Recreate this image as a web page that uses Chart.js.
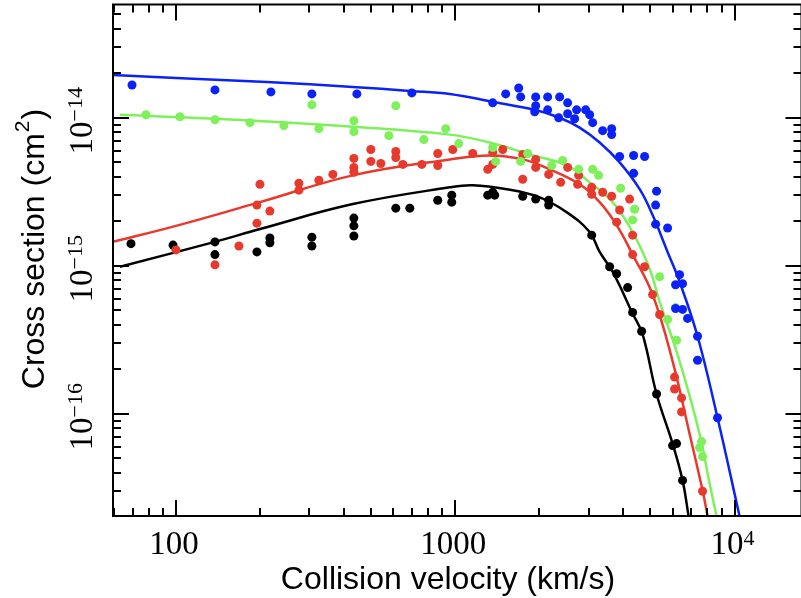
<!DOCTYPE html>
<html>
<head>
<meta charset="utf-8">
<title>Cross section vs collision velocity</title>
<script src="https://cdn.jsdelivr.net/npm/chart.js@4/dist/chart.umd.min.js"></script>
<style>
  html, body { margin: 0; padding: 0; background: #fff; overflow: hidden; }
</style>
</head>
<body>
<canvas id="xsec" width="806" height="598"></canvas>
<script>
// Velocities in km/s, cross sections in units of 1e-15 cm^2

// measured points
const blueV = [69.6, 137.9, 218.7, 306.6, 444.3, 699, 1362, 1516, 1687, 1715, 1925, 1941, 1941, 2142, 2142, 2365, 2346, 2526, 2526, 2676, 2720, 2930, 3029, 3105, 3371, 3631, 3631, 3878, 4352, 4764, 4352, 5258, 5217, 5217, 5758, 6356, 6150, 6515, 6150, 6515, 6789, 7372, 7372, 8692];
const blueS = [16.65, 15.41, 14.94, 14.49, 14.49, 14.71, 12.61, 14.49, 15.89, 13.83, 10.97, 13.83, 12.04, 13.83, 11.31, 13.83, 10.0, 12.61, 10.64, 9.85, 11.31, 11.31, 10.47, 9.26, 8.18, 8.44, 7.69, 5.47, 5.56, 5.47, 4.21, 3.19, 2.57, 1.91, 1.80, 0.871, 0.745, 0.757, 0.514, 0.507, 0.441, 0.334, 0.230, 0.094];

const greenV = [78.1, 103.3, 137.9, 184.0, 243.4, 306.6, 324.8, 433.5, 433.5, 578.3, 612.5, 771.6, 924.7, 1029, 1362, 1396, 1715, 1817, 2214, 2424, 2766, 3105, 3262, 3910, 4387, 4316, 5392, 6150, 5758, 6201, 7620, 7495, 7682];
const greenS = [10.47, 10.15, 9.69, 9.26, 8.84, 12.22, 8.44, 9.55, 8.05, 7.57, 12.04, 7.12, 8.44, 6.69, 6.29, 5.07, 5.07, 5.73, 4.76, 5.15, 4.48, 4.48, 4.08, 3.34, 2.41, 2.04, 0.844, 0.522, 0.434, 0.314, 0.0649, 0.0591, 0.0514];

const redV = [100, 137.9, 168.0, 194.9, 194.9, 199.8, 216.9, 275.5, 275.5, 324.8, 364.6, 433.5, 433.5, 433.5, 498.5, 498.5, 541.4, 612.5, 612.5, 649.2, 759, 865.6, 865.6, 979.7, 1155, 1307, 1362, 1362, 1479, 1744, 1744, 1941, 1941, 2160, 2385, 2526, 2743, 2766, 3080, 3080, 3371, 3631, 3878, 4211, 3783, 4316, 4316, 4764, 5089, 5392, 6099, 6099, 6461, 6461, 7682];
const redS = [1.28, 1.015, 1.36, 1.94, 2.57, 3.55, 2.34, 3.61, 3.24, 3.78, 4.14, 5.31, 4.62, 4.28, 6.10, 5.07, 4.91, 5.91, 5.39, 4.84, 4.84, 5.73, 4.76, 6.10, 5.73, 4.48, 4.84, 5.82, 6.10, 3.84, 5.65, 5.23, 4.62, 4.14, 3.66, 4.62, 3.55, 4.08, 3.39, 3.04, 3.14, 2.95, 2.38, 2.82, 1.97, 1.61, 1.19, 0.985, 0.639, 0.469, 0.177, 0.147, 0.128, 0.103, 0.0300];

const blackV = [69.0, 97.6, 137.9, 137.9, 194.9, 216.9, 216.9, 306.6, 306.6, 433.5, 433.5, 433.5, 612.5, 687.5, 865.6, 971.6, 971.6, 1307, 1362, 1384, 1744, 1941, 2160, 2160, 3080, 3571, 3783, 4142, 4316, 4649, 5258, 6000, 6201, 6515];
const blackS = [1.41, 1.38, 1.45, 1.19, 1.24, 1.54, 1.43, 1.56, 1.36, 2.10, 1.86, 1.59, 2.45, 2.45, 2.77, 3.00, 2.69, 3.00, 3.14, 3.00, 2.95, 2.82, 2.77, 2.57, 1.61, 0.985, 0.884, 0.712, 0.484, 0.361, 0.136, 0.0610, 0.0629, 0.0355];

// model curves
const blueFitV = [59.5, 100, 211.6, 429.8, 687.5, 955.6, 1362, 1925, 2365, 2788, 3289, 3878, 4574, 5089, 5758, 6356, 7372, 8692, 10420];
const blueFitS = [19.44, 18.56, 17.44, 16.15, 15.18, 14.49, 12.81, 11.31, 10.0, 8.57, 6.80, 4.99, 3.29, 2.20, 1.24, 0.781, 0.334, 0.094, 0.0204];

const greenFitV = [63.0, 137.9, 429.8, 955.6, 1329, 1847, 2506, 3029, 3660, 4316, 4965, 5392, 6356, 7495, 8140, 8620];
const greenFitS = [10.47, 9.85, 8.70, 7.69, 6.80, 5.65, 4.76, 3.66, 2.69, 1.69, 0.955, 0.573, 0.227, 0.0734, 0.0339, 0.0204];

const redFitV = [59.5, 100, 199.8, 429.8, 955.6, 1329, 1744, 2178, 2788, 3289, 3783, 4316, 5089, 6000, 6902, 7682, 8006];
const redFitS = [1.45, 1.86, 2.69, 4.08, 5.23, 5.56, 5.23, 4.48, 3.55, 2.69, 1.88, 1.19, 0.639, 0.227, 0.0734, 0.0304, 0.0204];

const blackFitV = [63.0, 137.9, 199.8, 429.8, 955.6, 1155, 1529, 2006, 2506, 3029, 3289, 3660, 4316, 4688, 5258, 6000, 6515, 6846];
const blackFitS = [0.985, 1.45, 1.77, 2.61, 3.39, 3.50, 3.29, 2.90, 2.30, 1.69, 1.24, 0.912, 0.476, 0.344, 0.136, 0.0629, 0.0355, 0.0204];

// axis tick labels
const xTickValues = [100, 1000, 10000];
const xTickBase = ['100', '1000', '10'];
const xTickExp = ['', '', '4'];
const yTickValues = [1e-14, 1e-15, 1e-16];
const yTickBase = ['10', '10', '10'];
const yTickExp = ['\u221214', '\u221215', '\u221216'];

const COLORS = { blue: '#0b22f6', green: '#7df05a', red: '#e8392d', black: '#000000' };
const UNIT = 1e-15;
const SERIF = '"Liberation Serif", "Times New Roman", serif';
const SANS = '"Liberation Sans", Arial, sans-serif';

function toPoints(vs, ss) {
    return vs.map((v, i) => ({ x: v, y: ss[i] * UNIT }));
}

function dots(vs, ss, color) {
    return {
        data: toPoints(vs, ss),
        showLine: false,
        pointRadius: 4.5,
        pointHoverRadius: 4.5,
        pointBorderWidth: 0,
        pointBackgroundColor: color,
        borderColor: color
    };
}

function fit(vs, ss, color) {
    return {
        data: toPoints(vs, ss),
        showLine: true,
        pointRadius: 0,
        borderColor: color,
        borderWidth: 2.5,
        tension: 0.4,
        fill: false
    };
}

// draw "base" with a raised exponent, centred on cx (horizontal text)
function drawPower(ctx, base, exp, cx, baseline, size, supSize, raise) {
    ctx.font = size + 'px ' + SERIF;
    const wb = ctx.measureText(base).width;
    ctx.font = supSize + 'px ' + SERIF;
    const we = exp ? ctx.measureText(exp).width : 0;
    const left = cx - (wb + we) / 2;
    ctx.font = size + 'px ' + SERIF;
    ctx.fillText(base, left, baseline);
    if (exp) {
        ctx.font = supSize + 'px ' + SERIF;
        ctx.fillText(exp, left + wb, baseline - raise);
    }
}

// frame, inward ticks on all four sides, tick labels and axis titles
const frameAndLabels = {
    id: 'frameAndLabels',
    afterDraw(chart) {
        const { ctx, chartArea: a, scales: { x, y } } = chart;
        ctx.save();
        ctx.strokeStyle = '#000';
        ctx.fillStyle = '#000';
        ctx.lineWidth = 2;
        ctx.lineCap = 'butt';

        ctx.beginPath();
        // x ticks, top and bottom
        for (let e = 1; e <= 4; e++) {
            for (let m = 1; m <= 9; m++) {
                const v = m * Math.pow(10, e);
                if (v < x.min || v > x.max) continue;
                const px = Math.round(x.getPixelForValue(v));
                const len = m === 1 ? 16 : 8;
                ctx.moveTo(px, a.bottom); ctx.lineTo(px, a.bottom - len);
                ctx.moveTo(px, a.top); ctx.lineTo(px, a.top + len);
            }
        }
        // y ticks, left and right
        for (let e = -17; e <= -14; e++) {
            for (let m = 1; m <= 9; m++) {
                const v = m * Math.pow(10, e);
                if (v < y.min || v > y.max) continue;
                const py = Math.round(y.getPixelForValue(v));
                const len = m === 1 ? 16 : 8;
                ctx.moveTo(a.left, py); ctx.lineTo(a.left + len, py);
                ctx.moveTo(a.right, py); ctx.lineTo(a.right - len, py);
            }
        }
        ctx.stroke();

        ctx.strokeRect(a.left, a.top, a.right - a.left, a.bottom - a.top);

        // x tick labels
        ctx.textBaseline = 'alphabetic';
        ctx.textAlign = 'left';
        xTickValues.forEach((v, i) => {
            const px = x.getPixelForValue(v);
            drawPower(ctx, xTickBase[i], xTickExp[i], px - 2, 554, 33, 22, 9);
        });

        // y tick labels, rotated
        yTickValues.forEach((v, i) => {
            const py = y.getPixelForValue(v);
            ctx.save();
            ctx.translate(92, py + 3);
            ctx.rotate(-Math.PI / 2);
            drawPower(ctx, yTickBase[i], yTickExp[i], 0, 0, 33, 22, 10);
            ctx.restore();
        });

        // x title
        ctx.font = '32px ' + SANS;
        ctx.textAlign = 'center';
        ctx.fillText('Collision velocity (km/s)', 448, 589);

        // y title with superscript
        ctx.save();
        ctx.translate(44, 250);
        ctx.rotate(-Math.PI / 2);
        ctx.textAlign = 'left';
        const main = 'Cross section (cm';
        ctx.font = '32px ' + SANS;
        const w1 = ctx.measureText(main).width;
        const wp = ctx.measureText(')').width;
        ctx.font = '21px ' + SANS;
        const w2 = ctx.measureText('2').width;
        const start = -(w1 + w2 + wp) / 2;
        ctx.font = '32px ' + SANS;
        ctx.fillText(main, start, 0);
        ctx.font = '21px ' + SANS;
        ctx.fillText('2', start + w1 + 1, -15);
        ctx.font = '32px ' + SANS;
        ctx.fillText(')', start + w1 + w2 + 2, 0);
        ctx.restore();

        ctx.restore();
    }
};

const ctx = document.getElementById('xsec');
new Chart(ctx, {
    type: 'scatter',
    data: {
        datasets: [
            dots(blueV, blueS, COLORS.blue),
            dots(greenV, greenS, COLORS.green),
            dots(redV, redS, COLORS.red),
            dots(blackV, blackS, COLORS.black),
            fit(blueFitV, blueFitS, COLORS.blue),
            fit(greenFitV, greenFitS, COLORS.green),
            fit(redFitV, redFitS, COLORS.red),
            fit(blackFitV, blackFitS, COLORS.black)
        ]
    },
    options: {
        responsive: false,
        animation: false,
        events: [],
        layout: { padding: { left: 0, right: 4, top: 1, bottom: 0 } },
        plugins: {
            legend: { display: false },
            tooltip: { enabled: false }
        },
        scales: {
            x: {
                type: 'logarithmic',
                min: 59.5,
                max: 17370,
                grid: { display: false },
                border: { display: false },
                ticks: { display: false },
                afterFit(scale) { scale.height = 82; }
            },
            y: {
                type: 'logarithmic',
                min: 2.04e-17,
                max: 5.82e-14,
                grid: { display: false },
                border: { display: false },
                ticks: { display: false },
                afterFit(scale) { scale.width = 113; }
            }
        }
    },
    plugins: [frameAndLabels]
});
</script>
</body>
</html>
